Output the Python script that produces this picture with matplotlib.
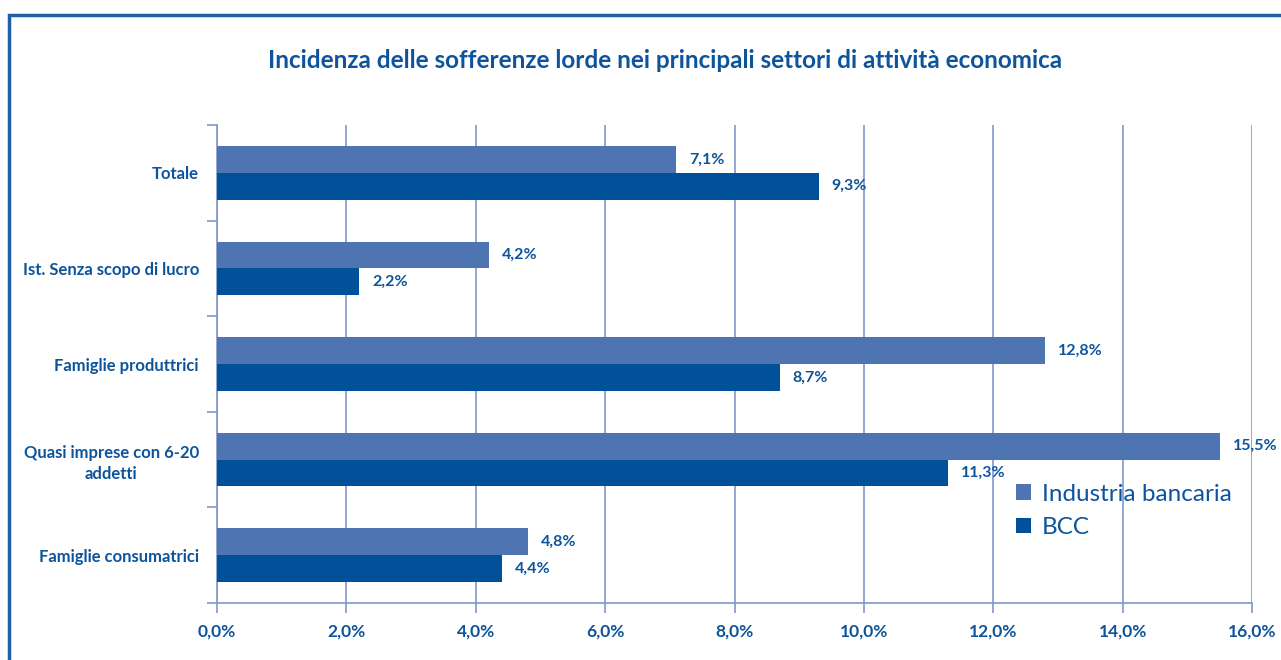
import numpy as np
import matplotlib.pyplot as plt
from matplotlib.patches import Rectangle

# data, bottom to top as drawn
categories = ['Famiglie consumatrici', 'Quasi imprese con 6-20\naddetti',
              'Famiglie produttrici', 'Ist. Senza scopo di lucro', 'Totale']
industria = [4.8, 15.5, 12.8, 4.2, 7.1]
bcc = [4.4, 11.3, 8.7, 2.2, 9.3]
xticks = [0, 2, 4, 6, 8, 10, 12, 14, 16]

c_light = '#4F74B2'
c_dark = '#00519A'
c_text = '#0D549C'
c_grid = '#7F97C9'

plt.rcParams['font.family'] = ['Lato', 'DejaVu Sans']

fig = plt.figure(figsize=(12.81, 6.6), dpi=100)
ax = fig.add_axes([217 / 1281, 1 - 603 / 660, 1035 / 1281, 478 / 660])

y = np.arange(len(categories))
h = 0.28
ax.barh(y + h / 2, industria, height=h, color=c_light, label='Industria bancaria', zorder=3)
ax.barh(y - h / 2, bcc, height=h, color=c_dark, label='BCC', zorder=3)

for yi, v in zip(y, industria):
    ax.text(v + 0.2, yi + h / 2, f'{v:.1f}%'.replace('.', ','), va='center', ha='left',
            color=c_text, fontsize=11.5, fontweight='bold')
for yi, v in zip(y, bcc):
    ax.text(v + 0.2, yi - h / 2, f'{v:.1f}%'.replace('.', ','), va='center', ha='left',
            color=c_text, fontsize=11.5, fontweight='bold')

ax.set_xlim(0, 16)
ax.set_ylim(-0.5, len(categories) - 0.5)
ax.set_xticks(xticks)
ax.set_xticklabels([f'{t:.1f}%'.replace('.', ',') for t in xticks])
ax.set_yticks(y)
ax.set_yticklabels(categories, linespacing=1.4, multialignment='center')
ax.set_yticks(np.arange(-0.5, len(categories)), minor=True)

ax.tick_params(axis='y', which='major', length=0, pad=13, labelcolor=c_text, labelsize=12)
ax.tick_params(axis='y', which='minor', length=7, color=c_grid, width=1.2)
ax.tick_params(axis='x', length=7, color=c_grid, width=1.2, pad=8, labelcolor=c_text, labelsize=12.5)
for lab in ax.get_xticklabels() + ax.get_yticklabels():
    lab.set_fontweight('bold')

ax.grid(axis='x', color=c_grid, linewidth=1.2, zorder=0)
for s in ['top', 'right']:
    ax.spines[s].set_visible(False)
ax.spines['left'].set_color(c_grid)
ax.spines['bottom'].set_color(c_grid)
ax.spines['left'].set_linewidth(1.2)
ax.spines['bottom'].set_linewidth(1.2)

ax.legend(loc='upper left', bbox_to_anchor=(0.763, 0.27), frameon=False, fontsize=17.5,
          labelcolor=c_text, handlelength=0.6, handleheight=0.6, handletextpad=0.45,
          labelspacing=0.5, borderaxespad=0)

fig.text(665 / 1281, 1 - 60 / 660, 'Incidenza delle sofferenze lorde nei principali settori di attività economica',
         ha='center', va='center', fontsize=17.5, fontweight='bold', color=c_text)

fig.patches.append(Rectangle((9 / 1281, -0.2), 1.5, 1 - 15 / 660 + 0.2, transform=fig.transFigure,
                             fill=False, edgecolor='#1F5FA8', linewidth=2.5))

fig.savefig('out.png', dpi=100)
